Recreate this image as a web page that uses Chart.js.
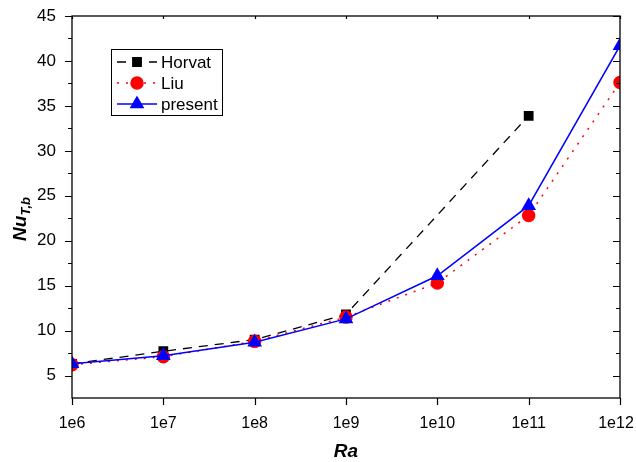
<!DOCTYPE html>
<html>
<head>
<meta charset="utf-8">
<script src="https://cdn.jsdelivr.net/npm/chart.js@4.4.0/dist/chart.umd.min.js"></script>
<style>
  body { margin: 0; background: #fff; }
</style>
</head>
<body>
<canvas id="nuChart" width="636" height="462"></canvas>
<script>
// Rayleigh numbers (x) and the three Nusselt series
const raValues = [1e6, 1e7, 1e8, 1e9, 1e10, 1e11, 1e12];
const xTickLabels = ['1e6', '1e7', '1e8', '1e9', '1e10', '1e11', '1e12'];
const horvat = [6.3, 7.7, 9.0, 11.8, null, 33.9, null];
const liu = [6.2, 7.1, 8.8, 11.5, 15.3, 22.8, 37.6];
const present = [6.3, 7.2, 8.7, 11.3, 16.1, 23.9, 41.7];
const yTickLabels = [5, 10, 15, 20, 25, 30, 35, 40, 45];
const yMinorTicks = [7.5, 12.5, 17.5, 22.5, 27.5, 32.5, 37.5, 42.5];

const FONT = '"Liberation Sans", Arial, sans-serif';
const ctx = document.getElementById('nuChart').getContext('2d');

function toPoints(values) {
    return raValues.map((ra, i) => ({ x: ra, y: values[i] }));
}

function noOverflow(scale) {
    scale.paddingLeft = 0;
    scale.paddingRight = 0;
    scale.paddingTop = 0;
    scale.paddingBottom = 0;
}

// keep the last x label inside the canvas
const edgeLabelPlugin = {
    id: 'edgeLabel',
    beforeDraw(chart) {
        const items = chart.scales.x.getLabelItems(chart.chartArea);
        const last = items[items.length - 1];
        if (last && last.options && last.options.translation) {
            last.options.translation[0] -= 4;
        }
    }
};

// frame, tick marks, axis titles and the boxed legend
const framePlugin = {
    id: 'frame',
    afterDraw(chart) {
        const c = chart.ctx;
        const a = chart.chartArea;
        const xs = chart.scales.x;
        const ys = chart.scales.y;
        c.save();
        c.strokeStyle = '#000';
        c.lineWidth = 1.3;
        c.strokeRect(a.left, a.top, a.right - a.left, a.bottom - a.top);

        c.lineWidth = 1.2;
        c.beginPath();
        yTickLabels.forEach(v => {
            const py = Math.round(ys.getPixelForValue(v)) + 0.5;
            c.moveTo(a.left - 7, py); c.lineTo(a.left, py);
            c.moveTo(a.right - 7, py); c.lineTo(a.right, py);
        });
        yMinorTicks.forEach(v => {
            const py = Math.round(ys.getPixelForValue(v)) + 0.5;
            c.moveTo(a.left - 4, py); c.lineTo(a.left, py);
            c.moveTo(a.right - 4, py); c.lineTo(a.right, py);
        });
        raValues.forEach(v => {
            const px = Math.round(xs.getPixelForValue(v)) + 0.5;
            c.moveTo(px, a.bottom); c.lineTo(px, a.bottom + 7);
            c.moveTo(px, a.top); c.lineTo(px, a.top + 3);
        });
        c.stroke();

        // x title
        c.fillStyle = '#000';
        c.font = 'italic bold 19px ' + FONT;
        c.textAlign = 'center';
        c.textBaseline = 'alphabetic';
        c.fillText('Ra', (a.left + a.right) / 2, 457);

        // y title with subscript
        c.save();
        c.translate(26, 219);
        c.rotate(-Math.PI / 2);
        c.font = 'italic bold 19px ' + FONT;
        const w1 = c.measureText('Nu').width;
        c.font = 'italic bold 13px ' + FONT;
        const w2 = c.measureText('T,b').width;
        const start = -(w1 + w2) / 2;
        c.textAlign = 'left';
        c.font = 'italic bold 19px ' + FONT;
        c.fillText('Nu', start, 0);
        c.font = 'italic bold 13px ' + FONT;
        c.fillText('T,b', start + w1, 4);
        c.restore();

        // legend
        const box = { left: 111.5, top: 49.5, right: 222.5, bottom: 115.5 };
        c.lineWidth = 1;
        c.strokeRect(box.left, box.top, box.right - box.left, box.bottom - box.top);
        const rows = [62, 83, 104];
        chart.data.datasets.forEach((ds, i) => {
            const y = rows[i];
            c.save();
            c.strokeStyle = ds.borderColor;
            c.lineWidth = ds.borderWidth;
            c.setLineDash(ds.borderDash || []);
            c.beginPath();
            c.moveTo(117, y); c.lineTo(157, y);
            c.stroke();
            c.setLineDash([]);
            c.fillStyle = ds.pointBackgroundColor;
            c.strokeStyle = ds.pointBorderColor;
            Chart.helpers.drawPoint(c, {
                pointStyle: ds.pointStyle,
                radius: ds.pointRadius,
                borderWidth: 1,
                rotation: 0
            }, 137, y);
            c.restore();
            c.fillStyle = '#000';
            c.font = '17px ' + FONT;
            c.textAlign = 'left';
            c.textBaseline = 'middle';
            c.fillText(ds.label, 161, y + 1);
        });
        c.restore();
    }
};

new Chart(ctx, {
    type: 'line',
    data: {
        datasets: [{
            label: 'Horvat',
            data: toPoints(horvat),
            borderColor: '#000',
            borderWidth: 1.3,
            borderDash: [9, 7],
            pointStyle: 'rect',
            pointRadius: 6,
            pointBackgroundColor: '#000',
            pointBorderColor: '#000',
            spanGaps: true,
            order: 3
        }, {
            label: 'Liu',
            data: toPoints(liu),
            borderColor: '#ff0000',
            borderWidth: 1.5,
            borderDash: [2, 7],
            pointStyle: 'circle',
            pointRadius: 6,
            pointBackgroundColor: '#ff0000',
            pointBorderColor: '#ff0000',
            order: 2
        }, {
            label: 'present',
            data: toPoints(present),
            borderColor: '#0000ff',
            borderWidth: 1.5,
            pointStyle: 'triangle',
            pointRadius: 7,
            pointBackgroundColor: '#0000ff',
            pointBorderColor: '#0000ff',
            order: 1
        }]
    },
    options: {
        responsive: false,
        animation: false,
        layout: { padding: { left: 0, top: 16, right: 16, bottom: 0 } },
        plugins: {
            legend: { display: false },
            tooltip: { enabled: false }
        },
        elements: { line: { tension: 0 } },
        scales: {
            x: {
                type: 'logarithmic',
                min: 1e6,
                max: 1e12,
                afterBuildTicks: scale => {
                    scale.ticks = raValues.map(v => ({ value: v }));
                },
                afterFit: scale => { scale.height = 64; noOverflow(scale); },
                ticks: {
                    autoSkip: false,
                    maxRotation: 0,
                    padding: 8,
                    color: '#000',
                    font: { family: FONT, size: 16 },
                    callback: (value, index) => xTickLabels[index]
                },
                grid: { display: false },
                border: { display: false }
            },
            y: {
                min: 2.5,
                max: 45,
                afterBuildTicks: scale => {
                    scale.ticks = yTickLabels.map(v => ({ value: v }));
                },
                afterFit: scale => { scale.width = 72; noOverflow(scale); },
                ticks: {
                    padding: 8,
                    color: '#000',
                    font: { family: FONT, size: 17 },
                    callback: value => String(value)
                },
                grid: { display: false },
                border: { display: false }
            }
        }
    },
    plugins: [edgeLabelPlugin, framePlugin]
});
</script>
</body>
</html>
